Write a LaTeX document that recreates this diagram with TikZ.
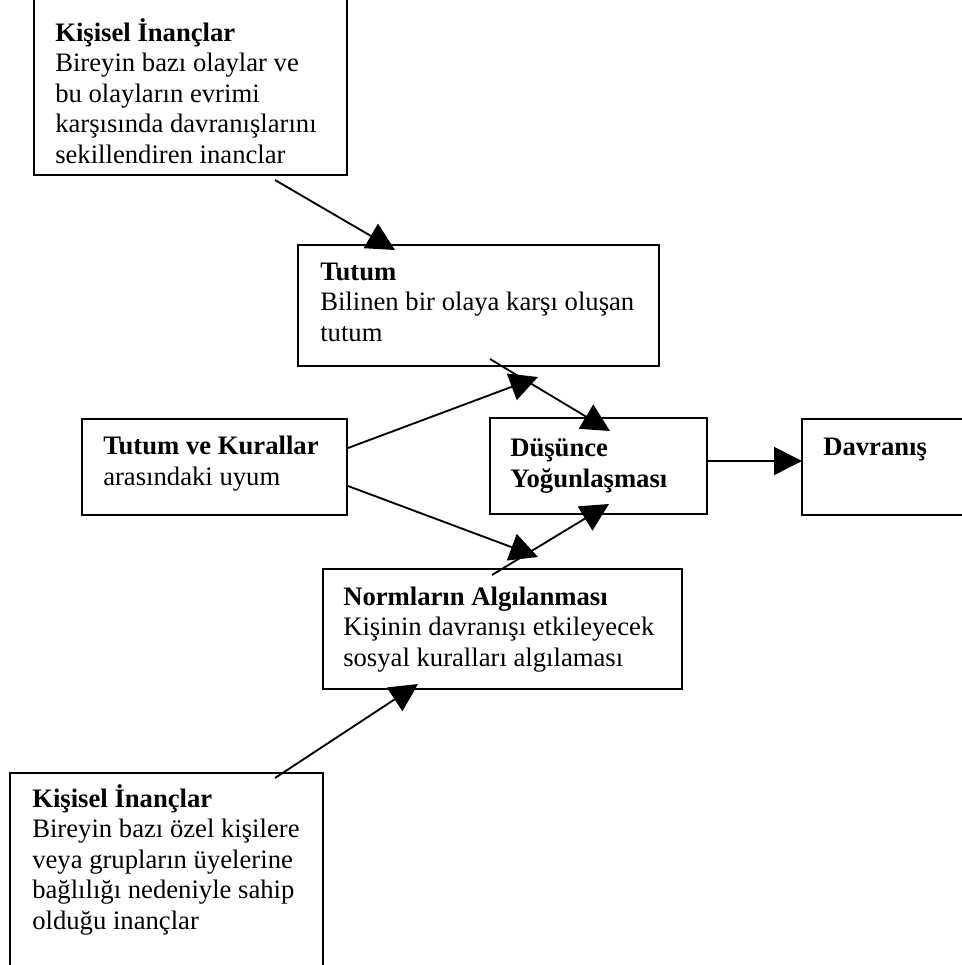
\documentclass[tikz,border=0pt]{standalone}
\usepackage{fontspec}
\setmainfont{Liberation Serif}
\usetikzlibrary{arrows.meta,fit}
\begin{document}
\begin{tikzpicture}[x=0.75pt,y=-0.75pt,
  box/.style={draw=black, line width=1.8pt, inner sep=0pt, rectangle},
  % text blocks are placed by the baseline of their last line
  txt/.style={anchor=base west, inner sep=0pt, align=left,
    font=\fontsize{20}{22.8}\selectfont},
  conn/.style={draw=black, line width=1.4pt,
    -{Triangle[length=21pt,width=21pt]}}]
\useasboundingbox (0,0) rectangle (962,965);
\clip (0,0) rectangle (962,965);

% boxes
\node[box, fit={(34,-3) (347,175)}] (persA) {};
\node[box, fit={(298,245) (659,366)}] (tutum) {};
\node[box, fit={(82,419) (347,515)}] (uyum) {};
\node[box, fit={(490,418) (707,514)}] (dusunce) {};
\node[box, fit={(802,419) (975,515)}] (davranis) {};
\node[box, fit={(323,569) (682,689)}] (norm) {};
\node[box, fit={(10,773) (323,975)}] (persB) {};

% texts
\node[txt] (persA-t) at (55,163) {\textbf{Kişisel İnançlar}\\Bireyin bazı olaylar ve\\bu olayların evrimi\\karşısında davranışlarını\\sekillendiren inanclar};
\node[txt] (tutum-t) at (320,341) {\textbf{Tutum}\\Bilinen bir olaya karşı oluşan\\tutum};
\node[txt] (uyum-t) at (103,485) {\textbf{Tutum ve Kurallar}\\arasındaki uyum};
\node[txt] (dusunce-t) at (510,487) {\textbf{Düşünce}\\\textbf{Yoğunlaşması}};
\node[txt] (davranis-t) at (823,455) {\textbf{Davranış}};
\node[txt] (norm-t) at (343,666) {\textbf{Normların Algılanması}\\Kişinin davranışı etkileyecek\\sosyal kuralları algılaması};
\node[txt] (persB-t) at (32,929) {\textbf{Kişisel İnançlar}\\Bireyin bazı özel kişilere\\veya grupların üyelerine\\bağlılığı nedeniyle sahip\\olduğu inançlar};

% connector end points
\coordinate (persA-out) at (275,180);
\coordinate (tutum-in) at (395,250);
\coordinate (tutum-out) at (490,359);
\coordinate (dusunce-in-top) at (610,431);
\coordinate (uyum-out-up) at (348,448);
\coordinate (uyum-tip-up) at (538,377);
\coordinate (uyum-out-down) at (348,486);
\coordinate (uyum-tip-down) at (538,557);
\coordinate (norm-out) at (492,575);
\coordinate (dusunce-in-bottom) at (609,504);
\coordinate (dusunce-out) at (707,461);
\coordinate (davranis-in) at (802,461);
\coordinate (persB-out) at (275,778);
\coordinate (norm-in) at (418,684);

% connectors
\draw[conn] (persA-out) -- (tutum-in);
\draw[conn] (tutum-out) -- (dusunce-in-top);
\draw[conn] (uyum-out-up) -- (uyum-tip-up);
\draw[conn] (uyum-out-down) -- (uyum-tip-down);
\draw[conn] (norm-out) -- (dusunce-in-bottom);
\draw[conn] (dusunce-out) -- (davranis-in);
\draw[conn] (persB-out) -- (norm-in);
\end{tikzpicture}
\end{document}
